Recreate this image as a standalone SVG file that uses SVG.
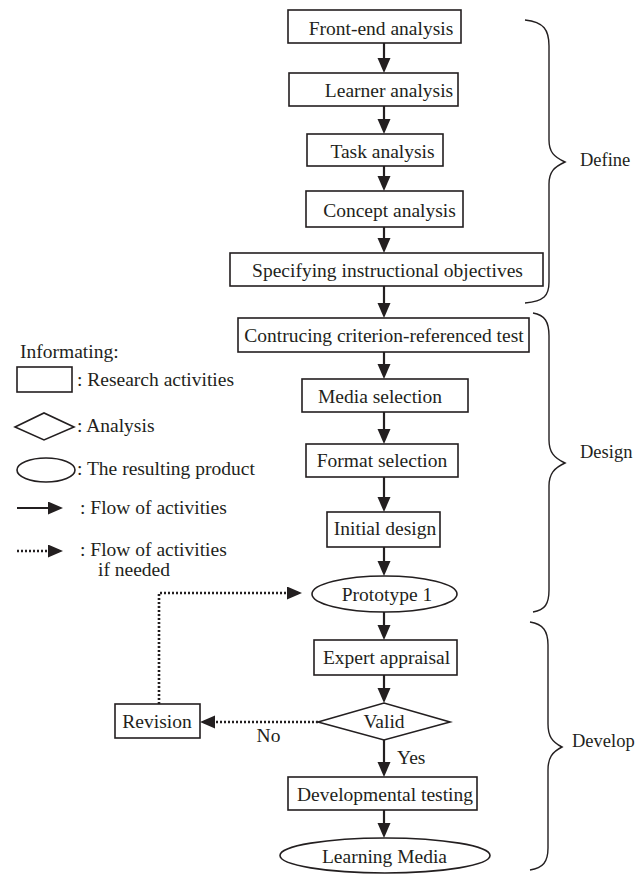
<svg xmlns="http://www.w3.org/2000/svg" width="637" height="874" viewBox="0 0 637 874">
  <style>
    .box { fill: #ffffff; stroke: #231f20; stroke-width: 1.6; }
    .t { font-family: "Liberation Serif", "Times New Roman", serif; font-size: 19.5px; fill: #231f20; }
    .tm { text-anchor: middle; }
    .side { font-family: "Liberation Serif", "Times New Roman", serif; font-size: 18.5px; fill: #231f20; }
    .flow { stroke: #231f20; stroke-width: 2.2; fill: none; }
    .dot { stroke: #231f20; stroke-width: 2.6; fill: none; stroke-dasharray: 2 2; }
    .brace { stroke: #231f20; stroke-width: 1.4; fill: none; }
  </style>
  <defs>
    <marker id="ah" markerUnits="userSpaceOnUse" markerWidth="17" markerHeight="15" refX="11" refY="6.5" orient="auto">
      <path d="M0,0 L15,6.5 L0,13 z" fill="#231f20"/>
    </marker>
  </defs>
  <rect width="637" height="874" fill="#ffffff"/>

  <g id="connectors">
    <line class="flow" x1="384" y1="43" x2="384" y2="69" marker-end="url(#ah)"/>
    <line class="flow" x1="384" y1="106" x2="384" y2="130" marker-end="url(#ah)"/>
    <line class="flow" x1="384" y1="166" x2="384" y2="187" marker-end="url(#ah)"/>
    <line class="flow" x1="384" y1="227" x2="384" y2="249" marker-end="url(#ah)"/>
    <line class="flow" x1="384" y1="286" x2="384" y2="314" marker-end="url(#ah)"/>
    <line class="flow" x1="384" y1="352" x2="384" y2="375" marker-end="url(#ah)"/>
    <line class="flow" x1="384" y1="412" x2="384" y2="440" marker-end="url(#ah)"/>
    <line class="flow" x1="384" y1="477" x2="384" y2="508" marker-end="url(#ah)"/>
    <line class="flow" x1="384" y1="547" x2="384" y2="572" marker-end="url(#ah)"/>
    <line class="flow" x1="384" y1="612" x2="384" y2="636" marker-end="url(#ah)"/>
    <line class="flow" x1="384" y1="675" x2="384" y2="699" marker-end="url(#ah)"/>
    <line class="flow" x1="384" y1="740" x2="384" y2="773" marker-end="url(#ah)"/>
    <line class="flow" x1="384" y1="810" x2="384" y2="834" marker-end="url(#ah)"/>
    <line class="dot" x1="318" y1="722" x2="204" y2="722" marker-end="url(#ah)"/>
    <polyline class="dot" points="159,704 159,593 298,593" marker-end="url(#ah)"/>
  </g>

  <g id="n-frontend">
    <rect class="box" x="288" y="10" width="173" height="33"/>
    <text class="t tm" x="381" y="34.5">Front-end analysis</text>
  </g>
  <g id="n-learner">
    <rect class="box" x="289" y="73" width="169" height="33"/>
    <text class="t tm" x="389" y="97">Learner analysis</text>
  </g>
  <g id="n-task">
    <rect class="box" x="307" y="134" width="136" height="32"/>
    <text class="t tm" x="382.5" y="158">Task analysis</text>
  </g>
  <g id="n-concept">
    <rect class="box" x="306" y="191" width="157" height="36"/>
    <text class="t tm" x="389.5" y="216.5">Concept analysis</text>
  </g>
  <g id="n-objectives">
    <rect class="box" x="230" y="253" width="313" height="33"/>
    <text class="t tm" x="387.5" y="277">Specifying instructional objectives</text>
  </g>
  <g id="n-test">
    <rect class="box" x="238" y="318" width="291" height="34"/>
    <text class="t tm" x="384" y="342">Contrucing criterion-referenced test</text>
  </g>
  <g id="n-media">
    <rect class="box" x="302" y="379" width="166" height="33"/>
    <text class="t tm" x="380" y="403">Media selection</text>
  </g>
  <g id="n-format">
    <rect class="box" x="306" y="444" width="152" height="33"/>
    <text class="t tm" x="382" y="467">Format selection</text>
  </g>
  <g id="n-initial">
    <rect class="box" x="327" y="512" width="113" height="35"/>
    <text class="t tm" x="385" y="535">Initial design</text>
  </g>
  <g id="n-prototype">
    <ellipse class="box" cx="384.5" cy="594" rx="72.5" ry="18"/>
    <text class="t tm" x="387" y="601">Prototype 1</text>
  </g>
  <g id="n-expert">
    <rect class="box" x="314" y="640" width="143" height="35"/>
    <text class="t tm" x="386.5" y="664">Expert appraisal</text>
  </g>
  <g id="n-valid">
    <polygon class="box" points="318,722 384,703 450,722 384,740"/>
    <text class="t tm" x="384" y="728">Valid</text>
  </g>
  <g id="n-revision">
    <rect class="box" x="115" y="704" width="85" height="34"/>
    <text class="t tm" x="157" y="728">Revision</text>
  </g>
  <g id="n-devtest">
    <rect class="box" x="288" y="777" width="189" height="33"/>
    <text class="t tm" x="385" y="801">Developmental testing</text>
  </g>
  <g id="n-learning">
    <ellipse class="box" cx="385" cy="855.5" rx="105" ry="17.5"/>
    <text class="t tm" x="384.5" y="863">Learning Media</text>
  </g>

  <g id="labels">
    <text class="t tm" x="268.5" y="742">No</text>
    <text class="t" x="397" y="764">Yes</text>
  </g>

  <g id="braces">
    <path class="brace" d="M525,20 C544,22 549,30 549,46 L549,140 C549,152 554,157 565,162 C554,167 549,172 549,184 L549,282 C549,296 544,301 525,303"/>
    <path class="brace" d="M533,313 C545,315 549,322 549,336 L549,440 C549,452 554,458 565,463 C554,468 549,474 549,486 L549,590 C549,604 545,610 533,612"/>
    <path class="brace" d="M530,622 C543,624 548,631 548,645 L548,724 C548,736 552,742 562,747 C552,752 548,758 548,770 L548,848 C548,862 543,868 530,870"/>
    <text class="side" x="580" y="166">Define</text>
    <text class="side" x="580" y="458">Design</text>
    <text class="side" x="572" y="747">Develop</text>
  </g>

  <g id="legend">
    <text class="t" x="20" y="358">Informating:</text>
    <rect class="box" x="17" y="367" width="55" height="25"/>
    <text class="t" x="77" y="386">: Research activities</text>
    <polygon class="box" points="15,427 44,413 74,427 44,440"/>
    <text class="t" x="77" y="432">: Analysis</text>
    <ellipse class="box" cx="46" cy="470" rx="29" ry="12"/>
    <text class="t" x="77" y="475">: The resulting product</text>
    <line class="flow" x1="17" y1="508" x2="59" y2="508" marker-end="url(#ah)"/>
    <text class="t" x="80" y="514">:  Flow of activities</text>
    <line class="dot" x1="17" y1="551" x2="59" y2="551" marker-end="url(#ah)"/>
    <text class="t" x="80" y="556">:  Flow of activities</text>
    <text class="t" x="98" y="576">if needed</text>
  </g>
</svg>
